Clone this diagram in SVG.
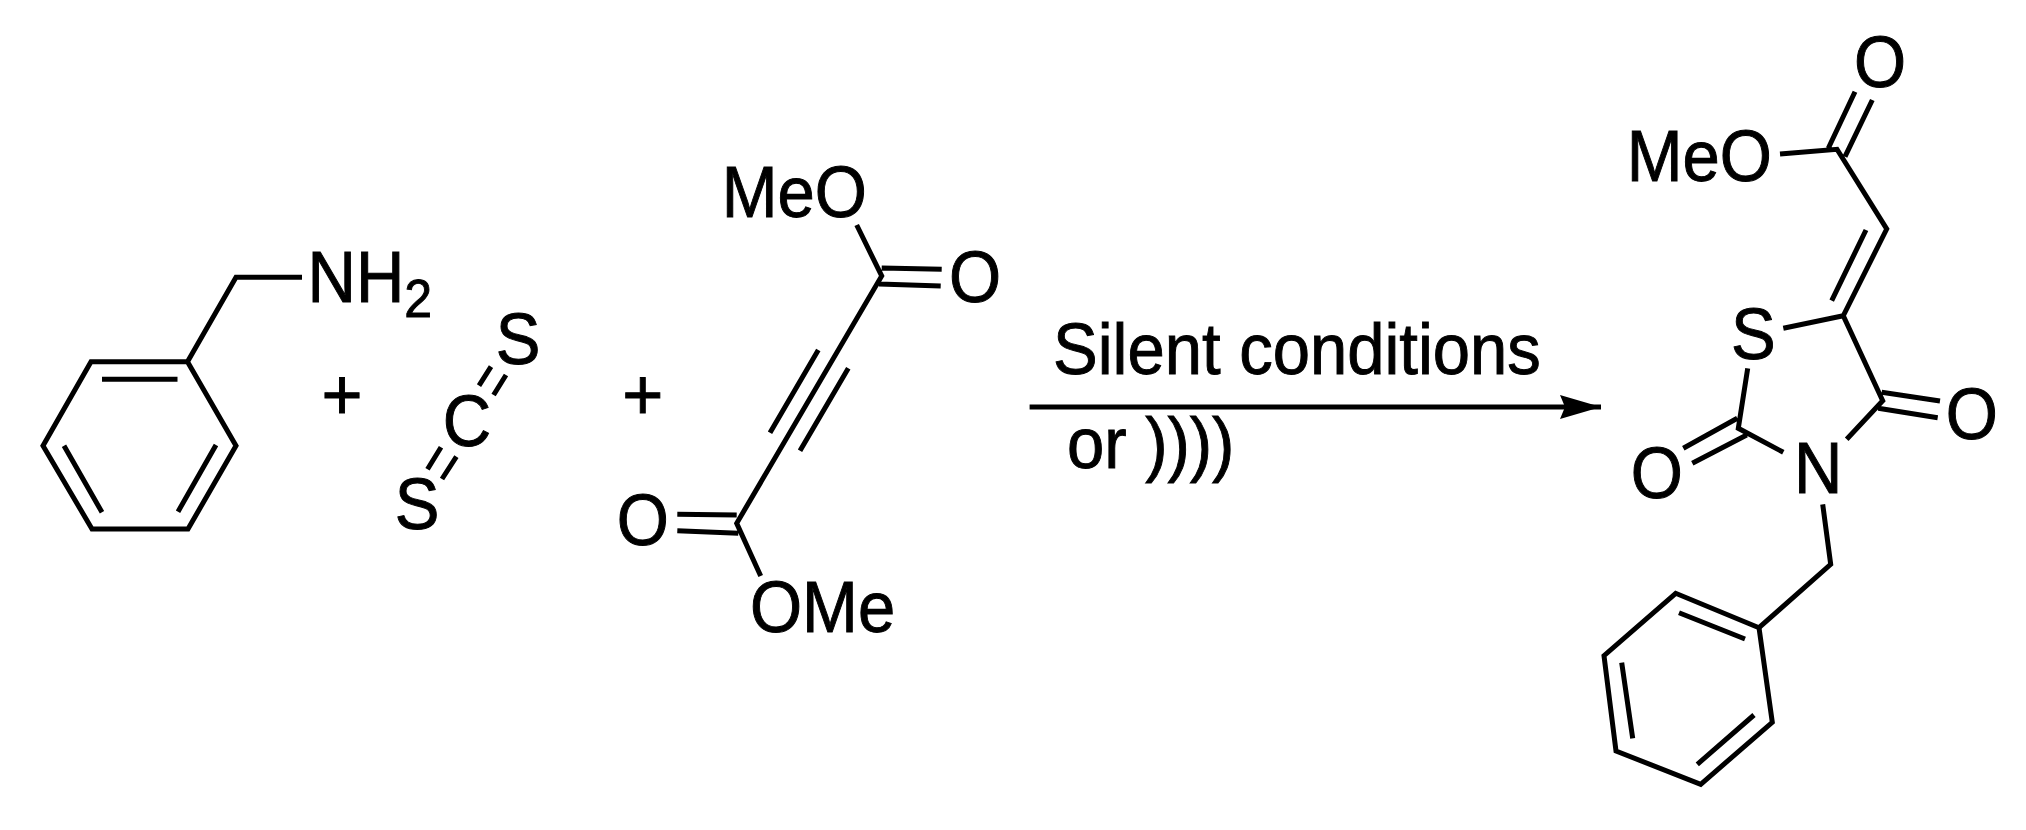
<svg xmlns="http://www.w3.org/2000/svg" width="2026" height="830" viewBox="0 0 2026 830">
<style>
.t{font-family:"Liberation Sans",Arial,sans-serif;font-size:67px;fill:#000;stroke:#000;stroke-width:0.9}
.m{text-anchor:middle}
.b{fill:none;stroke:#000;stroke-width:5;stroke-linejoin:miter;stroke-linecap:butt}
.a{fill:none;stroke:#000;stroke-width:5}
</style>
<defs>
<marker id="head" markerUnits="userSpaceOnUse" markerWidth="42" markerHeight="24" refX="41" refY="12" orient="auto" viewBox="0 0 42 24">
<path d="M0 0L41 12L0 24L5 12Z" fill="#000"/>
</marker>
</defs>
<rect width="2026" height="830" fill="#fff"/>
<g id="benzylamine">
<path class="b" d="M91 361.700L187.500 361.700L236 445.700L188 529L92 529L43 445.700ZM102 379.300L177.500 379.300M216 445L178 511.700M64 445.700L102 512.300M187.500 361.700L236 277.300L302 277.300"/>
<text class="t" transform="translate(307.500 301.700) scale(1 1.07)">NH<tspan font-size="50" dy="14">2</tspan></text>
</g>
<g id="plus-1"><text class="t m" transform="translate(342 419) scale(1.05 1.07)">+</text></g>
<g id="carbon-disulfide">
<path class="b" d="M491 366.700L479 385.700M506 375L493.600 395M441 447.300L427.500 469.300M456.400 456.700L442 479"/>
<text class="t m" transform="translate(518 364) scale(1 1.07)">S</text>
<text class="t m" transform="translate(467 446) scale(1 1.07)">C</text>
<text class="t m" transform="translate(417 529) scale(1 1.07)">S</text>
</g>
<g id="plus-2"><text class="t m" transform="translate(642.700 419) scale(1.05 1.07)">+</text></g>
<g id="dmad">
<path class="b" d="M856.700 225L881.700 276L736.700 523.300L760.700 576M881.700 268L941.700 269.300M879 284L940.700 286M818.300 350L770 432.700M848.300 368.300L800 450.700M677.300 514.300L736.700 515M677.300 530.700L738.300 533.300"/>
<text class="t" transform="translate(721.800 216.700) scale(1 1.07)">MeO</text>
<text class="t m" transform="translate(975 301.500) scale(1 1.07)">O</text>
<text class="t m" transform="translate(642.700 545) scale(1 1.07)">O</text>
<text class="t" transform="translate(750 631.500) scale(1 1.07)">OMe</text>
</g>
<g id="conditions">
<text class="t" transform="translate(1053 374) scale(1 1.07)">Silent conditions</text>
<text class="t" transform="translate(1067 468) scale(1 1.07)">or ))))</text>
</g>
<g id="product">
<path class="b" d="M1855 91.700L1828.300 148.300M1872.300 100L1845 156.700M1780 154L1837 149.300L1886.700 229L1843.300 315.700L1882.700 400.700L1846.700 439.300M1866 230L1831.700 300.700M1783.300 328.300L1843.300 315.700M1881.700 392.300L1940 401M1878.300 408.300L1937.700 417.700M1783.300 452.300L1738.300 428.300L1747.700 368.300M1737.300 418.300L1683.300 448.300M1746.700 435L1692.300 463.300M1822.700 504.300L1830.700 564.300L1759 627.700"/>
<path class="b" d="M1759 627.700L1675.700 593.300L1604 655.700L1616 751L1700.700 784.300L1772.300 722.300ZM1679 612.700L1745 639M1621.700 662.700L1632.700 738.300M1697.300 764.300L1754 715"/>
<text class="t m" transform="translate(1880 87) scale(1 1.07)">O</text>
<text class="t" transform="translate(1626.800 180.500) scale(1 1.07)">MeO</text>
<text class="t m" transform="translate(1753.300 358.500) scale(1 1.07)">S</text>
<text class="t m" transform="translate(1971.700 439) scale(1 1.07)">O</text>
<text class="t m" transform="translate(1656.700 497.500) scale(1 1.07)">O</text>
<text class="t m" transform="translate(1818.300 493.300) scale(1 1.07)">N</text>
</g>
<g id="connectors">
<line class="a" x1="1029.600" y1="407" x2="1601" y2="407" marker-end="url(#head)"/>
</g>
</svg>
